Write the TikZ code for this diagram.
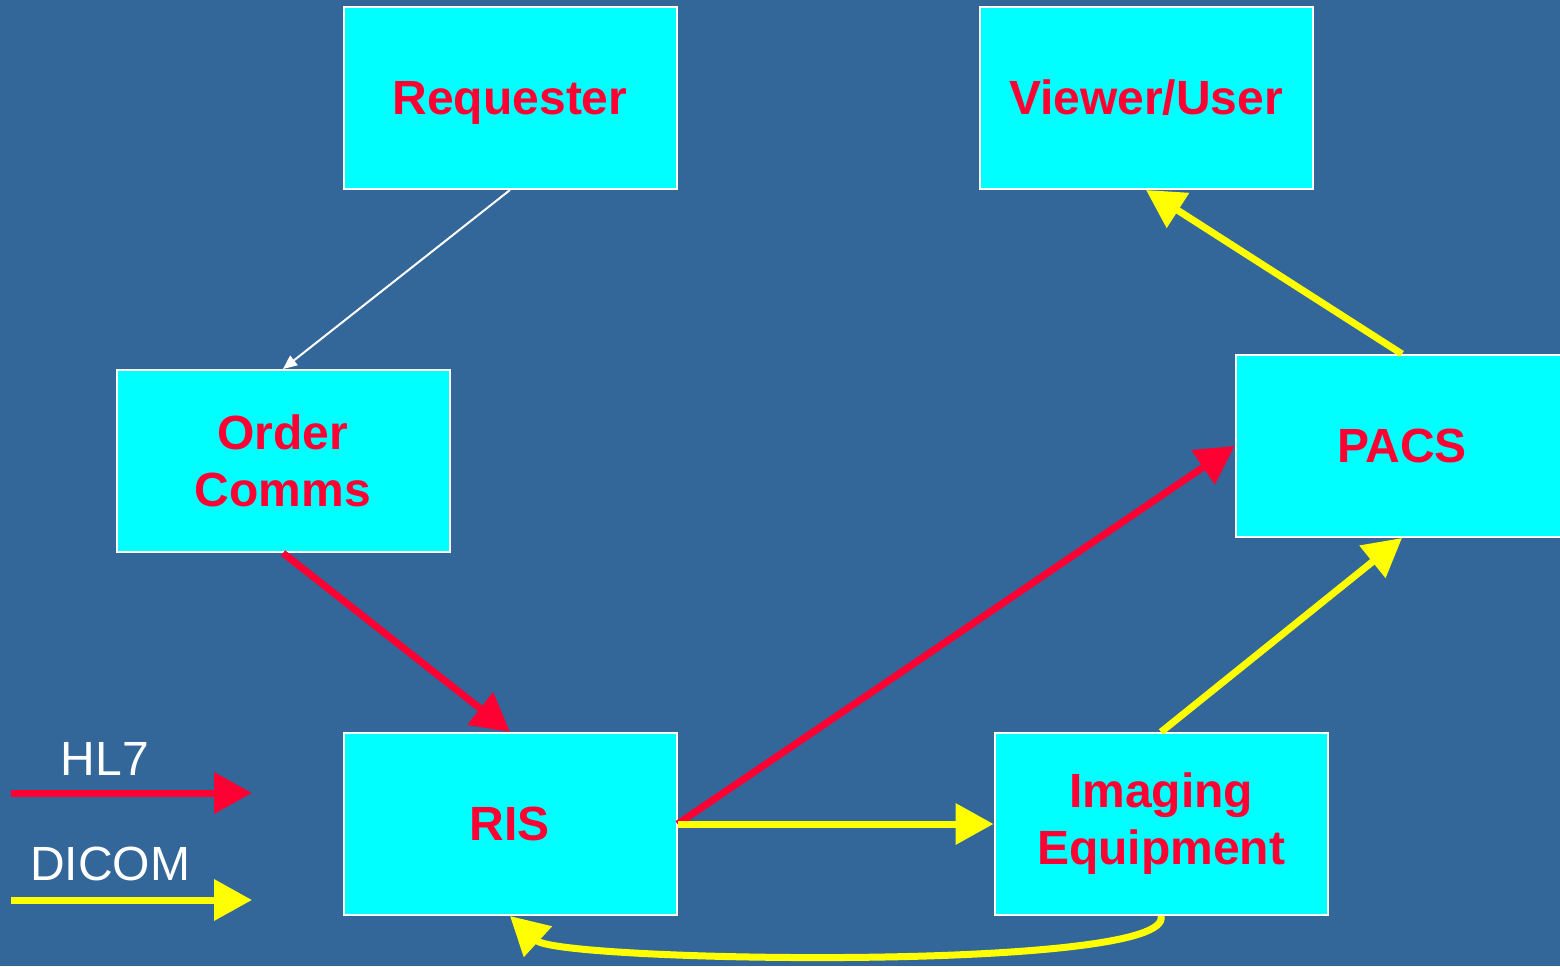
\documentclass[tikz,border=0pt]{standalone}
\usepackage{fontspec}
\setmainfont{Liberation Sans}
\usetikzlibrary{positioning,arrows.meta}

\definecolor{bgblue}{RGB}{51,102,153}
\definecolor{boxcyan}{RGB}{0,255,255}
\definecolor{hlred}{RGB}{255,0,51}
\definecolor{dcyellow}{RGB}{255,255,0}

\begin{document}
\begin{tikzpicture}[
    x=1pt, y=-1pt,
    block/.style={rectangle, draw=white, line width=2pt, fill=boxcyan, minimum width=333pt, minimum height=182pt, inner sep=0pt, align=center, text=hlred, font=\fontsize{48}{57}\selectfont\bfseries},
    hlarrow/.style={-{Triangle[length=38pt,width=40pt]}, line width=7pt, draw=hlred},
    dcarrow/.style={-{Triangle[length=38pt,width=40pt]}, line width=7pt, draw=dcyellow},
    plain/.style={-{Triangle[length=14pt,width=12pt]}, line width=2pt, draw=white},
    legend/.style={text=white, font=\fontsize{48}{56}\selectfont}
]

% Background
\fill[bgblue] (0,0) rectangle (1560,966);
\clip (0,0) rectangle (1560,966);

% Systems
\node[block, text depth=0pt] (requester) at (510,98) {Requester};
\node[block, right=301pt of requester] (viewer) {Viewer/User};
\node[block] (order) at (283,461) {Order\\Comms};
\node[block] (pacs) at (1402,446) {PACS};
\node[block] (ris) at (510,824) {RIS};
\node[block, right=316pt of ris] (imaging) {Imaging\\Equipment};

% Legend
\coordinate (hl_start) at (11,793);
\coordinate (hl_end) at (252,793);
\coordinate (dc_start) at (11,900);
\coordinate (dc_end) at (252,900);
\node[legend] (hl_label) at (105,759) {HL7};
\node[legend] (dc_label) at (110,864) {DICOM};
\draw[hlarrow] (hl_start) -- (hl_end);
\draw[dcarrow] (dc_start) -- (dc_end);

% Messages
\draw[plain] (requester.south) -- (order.north);
\draw[hlarrow] (order.south) -- (ris.north);
\draw[hlarrow] (ris.east) -- (pacs.west);
\draw[dcarrow] (ris.east) -- (imaging.west);
\draw[dcarrow] (imaging.north) -- (pacs.south);
\draw[dcarrow] (pacs.north) -- (viewer.south);
\draw[dcarrow] (imaging.south) .. controls (1175,972) and (560,962) .. (ris.south);

\end{tikzpicture}
\end{document}
